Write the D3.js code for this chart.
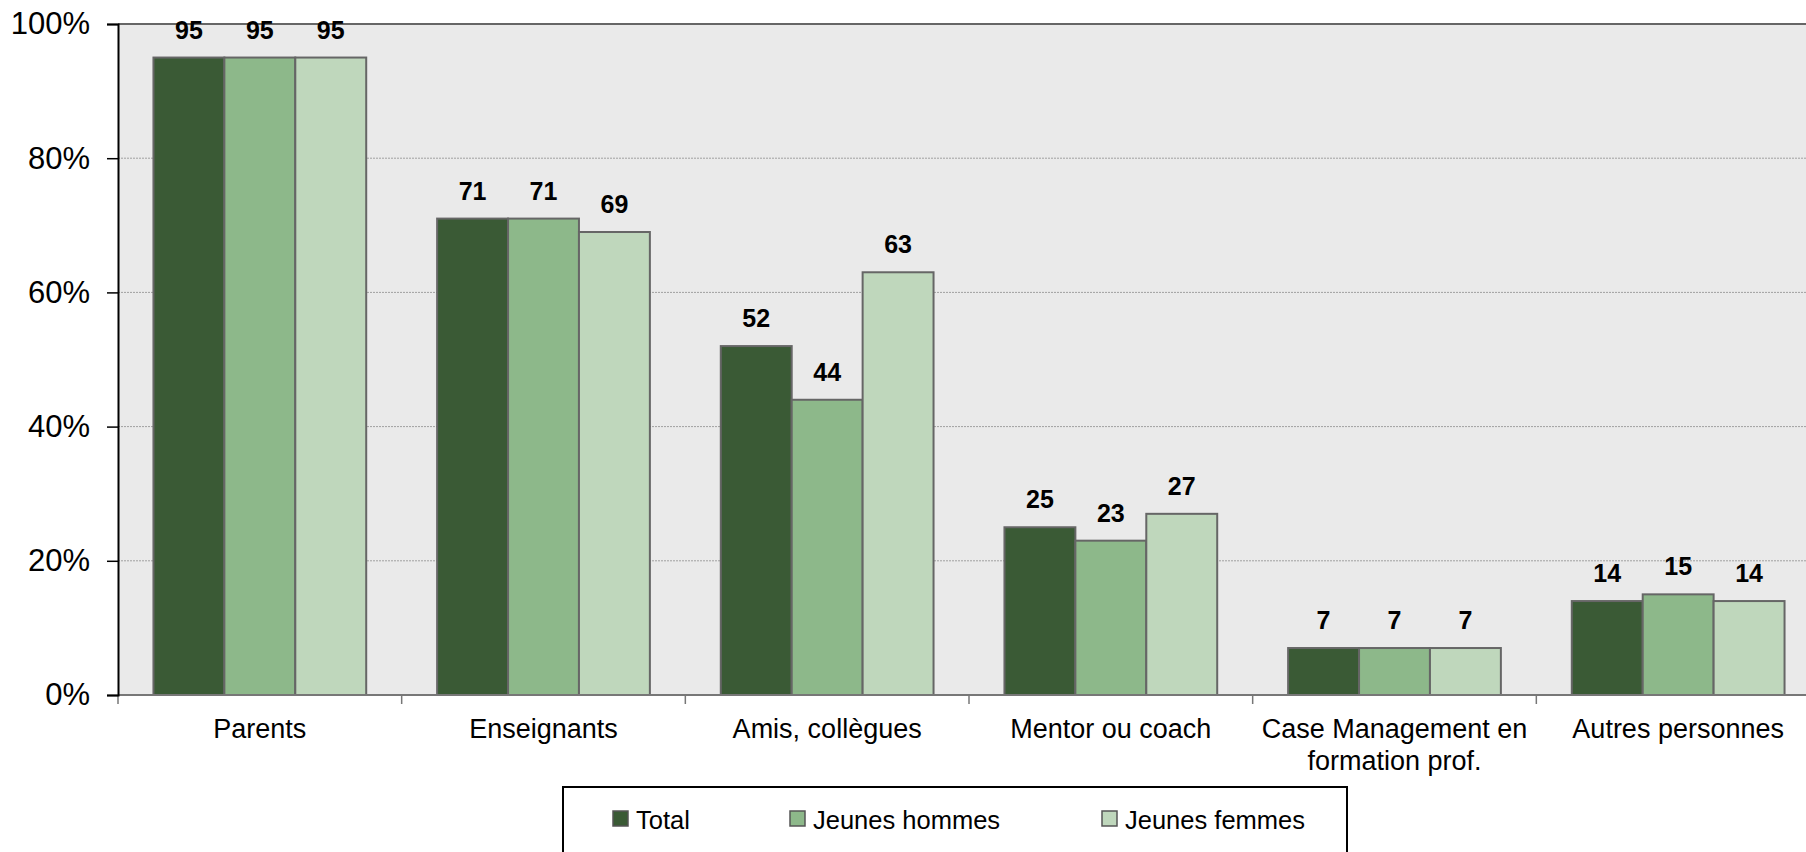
<!DOCTYPE html>
<html>
<head>
<meta charset="utf-8">
<script src="https://cdn.jsdelivr.net/npm/d3@7"></script>
<style>
  html, body { margin: 0; padding: 0; background: #fff; }
  svg { display: block; font-family: "Liberation Sans", Arial, sans-serif; }
</style>
</head>
<body>
<svg id="chart" width="1806" height="852"></svg>
<script>
const categories = [["Parents"], ["Enseignants"], ["Amis, collègues"], ["Mentor ou coach"], ["Case Management en", "formation prof."], ["Autres personnes"]];
const seriesNames = ["Total", "Jeunes hommes", "Jeunes femmes"];
const total = [95, 71, 52, 25, 7, 14];
const jeunesHommes = [95, 71, 44, 23, 7, 15];
const jeunesFemmes = [95, 69, 63, 27, 7, 14];
const yTicks = [0, 20, 40, 60, 80, 100];
const colors = ["#3a5a35", "#8db88a", "#bfd7bc"];

(function draw() {
const seriesValues = [total, jeunesHommes, jeunesFemmes];
const svg = d3.select("#chart");
const pLeft = 118, pTop = 24, pBottom = 695, pRight = 1820;

const x = d3.scaleBand().domain(d3.range(categories.length)).range([pLeft, pRight]).paddingInner(0).paddingOuter(0);
const x1 = d3.scaleBand().domain(d3.range(seriesNames.length)).range([x.bandwidth() / 8, x.bandwidth() * 7 / 8]);
const y = d3.scaleLinear().domain([0, 100]).range([pBottom, pTop]);

// plot background
svg.append("rect").attr("x", pLeft).attr("y", pTop).attr("width", pRight - pLeft).attr("height", pBottom - pTop).attr("fill", "#eaeaea");

// gridlines
svg.append("g").selectAll("line").data(yTicks.filter(d => d > 0 && d < 100)).join("line")
  .attr("x1", pLeft).attr("x2", pRight).attr("y1", d => y(d)).attr("y2", d => y(d))
  .attr("stroke", "#a0a0a0").attr("stroke-width", 1).attr("stroke-dasharray", "2,1");
svg.append("line").attr("x1", pLeft).attr("x2", pRight).attr("y1", y(100)).attr("y2", y(100))
  .attr("stroke", "#666").attr("stroke-width", 2);

// bars
const groups = svg.append("g").selectAll("g").data(categories).join("g")
  .attr("transform", (d, i) => `translate(${x(i)},0)`);
groups.each(function(c, i) {
  const g = d3.select(this);
  seriesValues.forEach((vals, s) => {
    g.append("rect")
      .attr("x", x1(s)).attr("width", x1.bandwidth())
      .attr("y", y(vals[i])).attr("height", y(0) - y(vals[i]))
      .attr("fill", colors[s]).attr("stroke", "#666").attr("stroke-width", 2);
    g.append("text")
      .attr("x", x1(s) + x1.bandwidth() / 2).attr("y", y(vals[i]) - 19)
      .attr("text-anchor", "middle").attr("font-weight", "bold").attr("font-size", 25)
      .attr("fill", "#000").text(vals[i]);
  });
});

// x axis
const xAxis = svg.append("g").attr("transform", `translate(0,${pBottom})`);
xAxis.append("line").attr("x1", pLeft).attr("x2", pRight).attr("stroke", "#777").attr("stroke-width", 2);
const bounds = d3.range(categories.length + 1).map(i => i < categories.length ? x(i) : pRight);
xAxis.selectAll("line.tick").data(bounds).join("line").attr("class", "tick")
  .attr("x1", d => d).attr("x2", d => d).attr("y1", 0).attr("y2", 9)
  .attr("stroke", "#777").attr("stroke-width", 1.5);
const labels = xAxis.selectAll("text").data(categories).join("text")
  .attr("text-anchor", "middle").attr("font-size", 27).attr("fill", "#000")
  .attr("transform", (d, i) => `translate(${x(i) + x.bandwidth() / 2},43)`);
labels.each(function(lines) {
  d3.select(this).selectAll("tspan").data(lines).join("tspan")
    .attr("x", 0).attr("dy", (d, j) => j === 0 ? 0 : 32).text(d => d);
});

// y axis
const yAxis = svg.append("g").attr("transform", `translate(${pLeft},0)`)
  .call(d3.axisLeft(y).tickValues(yTicks).tickFormat(d => d + "%").tickSize(11).tickPadding(17));
yAxis.select(".domain").attr("stroke", "#000").attr("stroke-width", 2);
yAxis.selectAll(".tick line").attr("stroke", "#000").attr("stroke-width", 1.5);
yAxis.selectAll(".tick text").attr("font-size", 31).attr("fill", "#000").attr("font-family", "'Liberation Sans', Arial, sans-serif");

// legend
const legend = svg.append("g");
legend.append("rect").attr("x", 563).attr("y", 787).attr("width", 784).attr("height", 80)
  .attr("fill", "#fff").attr("stroke", "#000").attr("stroke-width", 2);
const legendX = [613, 790, 1102];
seriesNames.forEach((name, s) => {
  legend.append("rect").attr("x", legendX[s]).attr("y", 811).attr("width", 15).attr("height", 15)
    .attr("fill", colors[s]).attr("stroke", "#555").attr("stroke-width", 1.5);
  legend.append("text").attr("x", legendX[s] + 23).attr("y", 829)
    .attr("font-size", 25.5).attr("fill", "#000").text(name);
});
})();
</script>
</body>
</html>
